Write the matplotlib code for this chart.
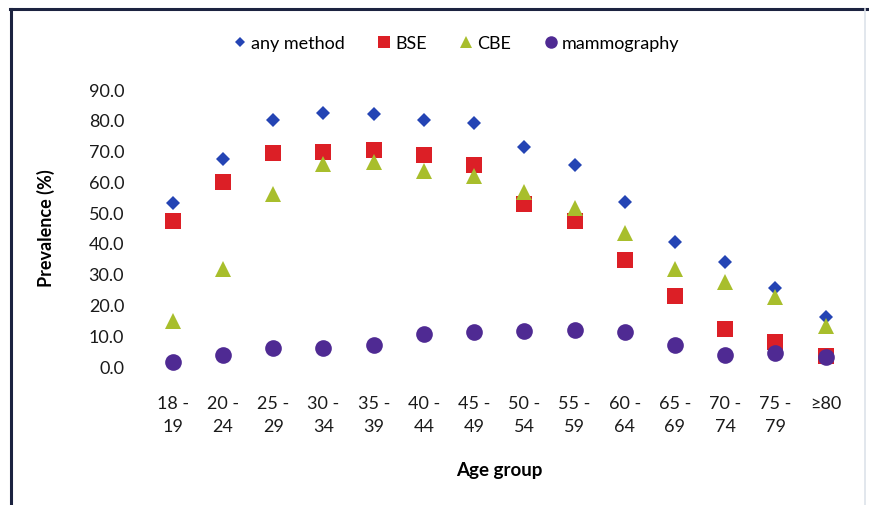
import matplotlib
matplotlib.use('Agg')
import matplotlib.pyplot as plt
from matplotlib.lines import Line2D

plt.rcParams['font.family'] = ['Liberation Sans Narrow', 'Lato', 'DejaVu Sans']

age_groups = ['18 -\n19', '20 -\n24', '25 -\n29', '30 -\n34', '35 -\n39', '40 -\n44',
              '45 -\n49', '50 -\n54', '55 -\n59', '60 -\n64', '65 -\n69', '70 -\n74',
              '75 -\n79', '\u226580']
any_method = [52.9, 67.2, 79.9, 82.1, 82.0, 80.0, 78.8, 71.2, 65.4, 53.3, 40.4, 33.7, 25.5, 15.8]
bse = [47.2, 59.8, 69.2, 69.4, 70.1, 68.5, 65.3, 52.6, 47.2, 34.4, 22.6, 12.0, 7.7, 3.1]
cbe = [14.7, 31.5, 55.8, 65.6, 66.3, 63.4, 61.6, 56.4, 51.2, 43.2, 31.5, 27.2, 22.3, 12.9]
mammography = [1.2, 3.6, 5.7, 5.7, 6.9, 10.4, 10.9, 11.5, 11.8, 11.1, 6.8, 3.6, 4.2, 2.8]
y_ticks = [0, 10, 20, 30, 40, 50, 60, 70, 80, 90]

series = [
    ('any method', any_method, 'D', 7.4, '#2444b4'),
    ('BSE', bse, 's', 12, '#dc1f26'),
    ('CBE', cbe, '^', 11, '#a8be2c'),
    ('mammography', mammography, 'o', 12, '#4f2a93'),
]

fig = plt.figure(figsize=(8.69, 5.06), dpi=100)
ax = fig.add_axes([0.170, 0.2747, 0.809, 0.5474])

x = list(range(len(age_groups)))
for label, values, marker, size, color in series:
    ax.plot(x, values, linestyle='none', marker=marker, markersize=size,
            color=color, markeredgewidth=0, label=label, clip_on=False)

ax.set_xlim(-0.5, len(age_groups) - 0.5)
ax.set_ylim(0, 90)
ax.set_yticks(y_ticks)
ax.set_yticklabels([f'{v:.1f}' for v in y_ticks])
ax.set_xticks(x)
ax.set_xticklabels(age_groups, linespacing=1.5)
ax.tick_params(axis='y', length=0, pad=17, labelsize=13, labelcolor='#1a1a1a')
ax.tick_params(axis='x', length=0, pad=21, labelsize=13, labelcolor='#1a1a1a')
for spine in ax.spines.values():
    spine.set_visible(False)

ax.set_ylabel('Prevalence (%)', fontsize=13, fontweight='bold', labelpad=24)
ax.set_xlabel('Age group', fontsize=13.5, fontweight='bold', labelpad=20)

fig.legend(loc='center', bbox_to_anchor=(455 / 869, 1 - 44 / 506), ncol=4,
           frameon=False, fontsize=13, handletextpad=0.1, columnspacing=1.7,
           handlelength=1.0, markerscale=0.75)

# chart frame: dark rule along top and left edges
fig.add_artist(Line2D([10 / 869, 1.0], [1 - 10 / 506, 1 - 10 / 506],
                      color='#1c2340', linewidth=2.2, transform=fig.transFigure))
fig.add_artist(Line2D([11 / 869, 11 / 869], [0.0, 1 - 10 / 506],
                      color='#1c2340', linewidth=2.2, transform=fig.transFigure))
fig.add_artist(Line2D([865 / 869, 865 / 869], [0.0, 1 - 10 / 506],
                      color='#dde3ea', linewidth=1.2, transform=fig.transFigure))

fig.savefig('out.png', dpi=100)
